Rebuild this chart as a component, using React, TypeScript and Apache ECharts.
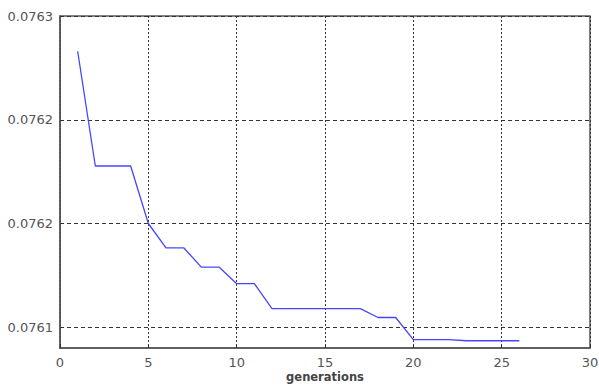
import React, { useEffect, useRef } from "react";
import * as echarts from "echarts";

const generations = [1, 2, 3, 4, 5, 6, 7, 8, 9, 10, 11, 12, 13, 14, 15, 16, 17, 18, 19, 20, 21, 22, 23, 24, 25, 26];
const fitness = [
  0.076283, 0.0762277, 0.0762277, 0.0762277, 0.0762, 0.0761883, 0.0761883, 0.076179, 0.076179,
  0.076171, 0.076171, 0.076159, 0.076159, 0.076159, 0.076159, 0.076159, 0.076159, 0.0761547,
  0.0761547, 0.076144, 0.076144, 0.076144, 0.0761435, 0.0761435, 0.0761435, 0.0761435,
];
const yTickValues = [0.07615, 0.0762, 0.07625, 0.0763];
const yTickLabels = ["0.0761", "0.0762", "0.0762", "0.0763"];
const xTickValues = [0, 5, 10, 15, 20, 25, 30];

export default function App() {
  const ref = useRef<HTMLDivElement>(null);
  useEffect(() => {
    if (!ref.current) return;
    const chart = echarts.init(ref.current, null, { renderer: "svg" });
    const font = "'DejaVu Sans', Verdana, sans-serif";
    chart.setOption({
      animation: false,
      backgroundColor: "#ffffff",
      grid: {
        left: 60,
        right: 9,
        top: 16,
        bottom: 37,
        containLabel: false,
        outerBoundsMode: "none",
        show: true,
        borderColor: "#5a5a5a",
        borderWidth: 1.5,
        backgroundColor: "transparent",
      },
      xAxis: {
        type: "value",
        min: 0,
        max: 30,
        interval: 5,
        name: "generations",
        nameLocation: "middle",
        nameGap: 29,
        nameMoveOverlap: false,
        nameTextStyle: {
          fontFamily: font,
          fontSize: 11.5,
          fontWeight: "bold",
          color: "#444",
          verticalAlign: "middle",
          lineHeight: 12,
        },
        axisLine: { show: true, lineStyle: { color: "#555", width: 1.5 } },
        axisTick: { show: true, inside: true, length: 4, lineStyle: { color: "#333" } },
        axisLabel: {
          fontFamily: font,
          fontSize: 13,
          color: "#555",
          margin: 8,
          formatter: (v: number) => (xTickValues.includes(v) ? String(v) : ""),
        },
        splitLine: { show: true, lineStyle: { color: "#333", type: [2, 2], width: 1 } },
      },
      yAxis: {
        type: "value",
        min: 0.07614,
        max: 0.0763,
        axisLine: { show: true, lineStyle: { color: "#555", width: 1.5 } },
        axisTick: { show: true, inside: true, length: 4, customValues: yTickValues, lineStyle: { color: "#333" } },
        axisLabel: {
          fontFamily: font,
          fontSize: 13,
          color: "#555",
          margin: 7,
          customValues: yTickValues,
          formatter: (v: number) => {
            let best = 0;
            for (let i = 0; i < yTickValues.length; i++) {
              if (Math.abs(yTickValues[i] - v) < Math.abs(yTickValues[best] - v)) best = i;
            }
            return yTickLabels[best];
          },
        },
        splitLine: { show: true, lineStyle: { color: "#333", type: [4, 3], width: 1 } },
      },
      series: [
        {
          type: "line",
          data: generations.map((g, i) => [g, fitness[i]]),
          showSymbol: false,
          lineStyle: { color: "#4646ff", width: 1.3 },
          itemStyle: { color: "#4646ff" },
        },
      ],
    });
    return () => chart.dispose();
  }, []);
  return (
    <div
      ref={ref}
      style={{ position: "absolute", left: 0, top: 0, width: 599, height: 385 }}
    />
  );
}
